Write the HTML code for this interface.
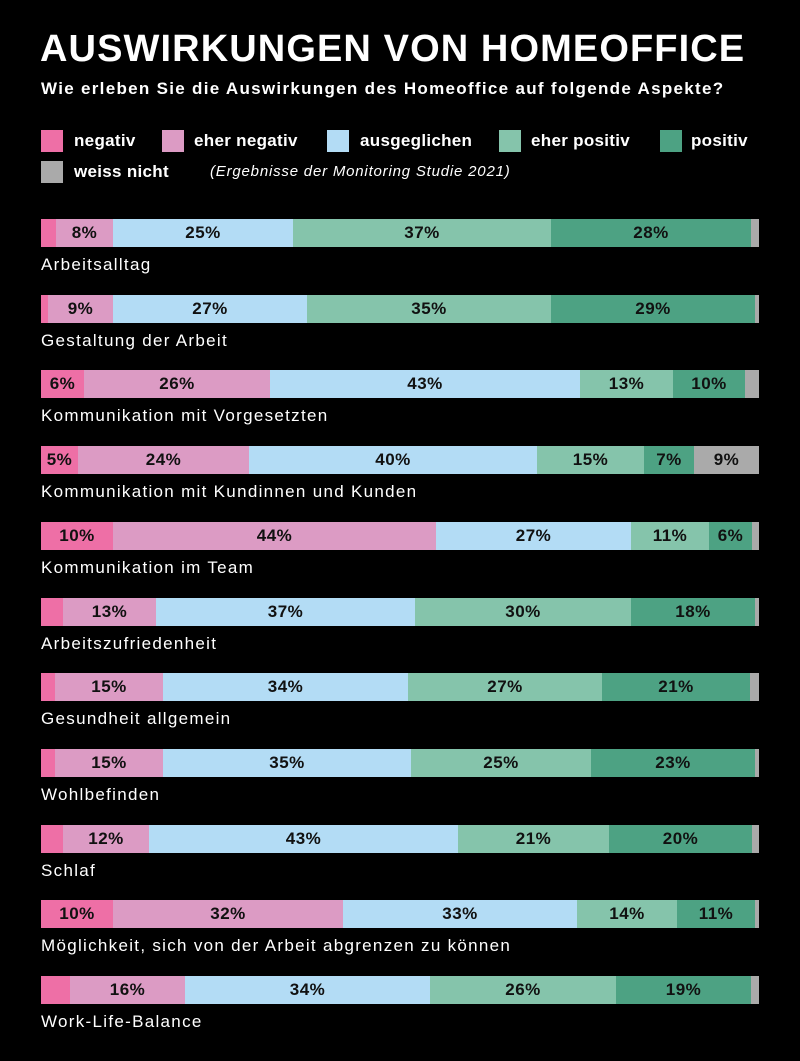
<!DOCTYPE html><html><head><meta charset="utf-8"><style>
body{margin:0;width:800px;height:1061px;background:#000;font-family:"Liberation Sans",sans-serif;color:#fff;position:relative;overflow:hidden}
.a{position:absolute;white-space:nowrap}
.s{position:absolute;height:28px;font-weight:bold;font-size:17px;color:#111;display:flex;align-items:center;justify-content:center;letter-spacing:0.5px}
.lab{position:absolute;left:41px;font-size:17px;letter-spacing:1.3px}
.sw{position:absolute;width:22px;height:22px}
.lg{position:absolute;font-weight:bold;font-size:17px;letter-spacing:0.3px}
</style></head><body>
<div class="a" style="left:40px;top:28px;font-size:38px;font-weight:bold;letter-spacing:1.1px">AUSWIRKUNGEN VON HOMEOFFICE</div>
<div class="a" style="left:41px;top:79px;font-size:17px;font-weight:bold;letter-spacing:1.3px">Wie erleben Sie die Auswirkungen des Homeoffice auf folgende Aspekte?</div>
<div class="sw" style="left:41px;top:130px;background:#ee6fa6"></div><div class="lg" style="left:74px;top:131px">negativ</div>
<div class="sw" style="left:162px;top:130px;background:#dc9bc4"></div><div class="lg" style="left:194px;top:131px">eher negativ</div>
<div class="sw" style="left:327px;top:130px;background:#b3dcf5"></div><div class="lg" style="left:360px;top:131px">ausgeglichen</div>
<div class="sw" style="left:499px;top:130px;background:#85c4ab"></div><div class="lg" style="left:531px;top:131px">eher positiv</div>
<div class="sw" style="left:660px;top:130px;background:#4da283"></div><div class="lg" style="left:691px;top:131px">positiv</div>
<div class="sw" style="left:41px;top:161px;background:#aaa"></div><div class="lg" style="left:74px;top:162px">weiss nicht</div>
<div class="a" style="left:210px;top:163px;font-size:15px;font-style:italic;letter-spacing:0.8px">(Ergebnisse der Monitoring Studie 2021)</div>
<div id="c"></div>
<script>
const C=["#ee6fa6","#dc9bc4","#b3dcf5","#85c4ab","#4da283","#aaa"];
const R=[
["Arbeitsalltag",[41,56,113,293,551,751,759],["","8%","25%","37%","28%",""]],
["Gestaltung der Arbeit",[41,48,113,307,551,755,759],["","9%","27%","35%","29%",""]],
["Kommunikation mit Vorgesetzten",[41,84,270,580,673,745,759],["6%","26%","43%","13%","10%",""]],
["Kommunikation mit Kundinnen und Kunden",[41,78,249,537,644,694,759],["5%","24%","40%","15%","7%","9%"]],
["Kommunikation im Team",[41,113,436,631,709,752,759],["10%","44%","27%","11%","6%",""]],
["Arbeitszufriedenheit",[41,63,156,415,631,755,759],["","13%","37%","30%","18%",""]],
["Gesundheit allgemein",[41,55,163,408,602,750,759],["","15%","34%","27%","21%",""]],
["Wohlbefinden",[41,55,163,411,591,755,759],["","15%","35%","25%","23%",""]],
["Schlaf",[41,63,149,458,609,752,759],["","12%","43%","21%","20%",""]],
["Möglichkeit, sich von der Arbeit abgrenzen zu können",[41,113,343,577,677,755,759],["10%","32%","33%","14%","11%",""]],
["Work-Life-Balance",[41,70,185,430,616,751,759],["","16%","34%","26%","19%",""]]];
let h="";
R.forEach((r,i)=>{const t=219+i*75.7;
for(let k=0;k<6;k++){h+=`<div class="s" style="left:${r[1][k]}px;width:${r[1][k+1]-r[1][k]}px;top:${t}px;background:${C[k]}">${r[2][k]}</div>`}
h+=`<div class="lab a" style="top:${t+36}px">${r[0]}</div>`});
document.getElementById("c").innerHTML=h;
</script>
</body></html>
